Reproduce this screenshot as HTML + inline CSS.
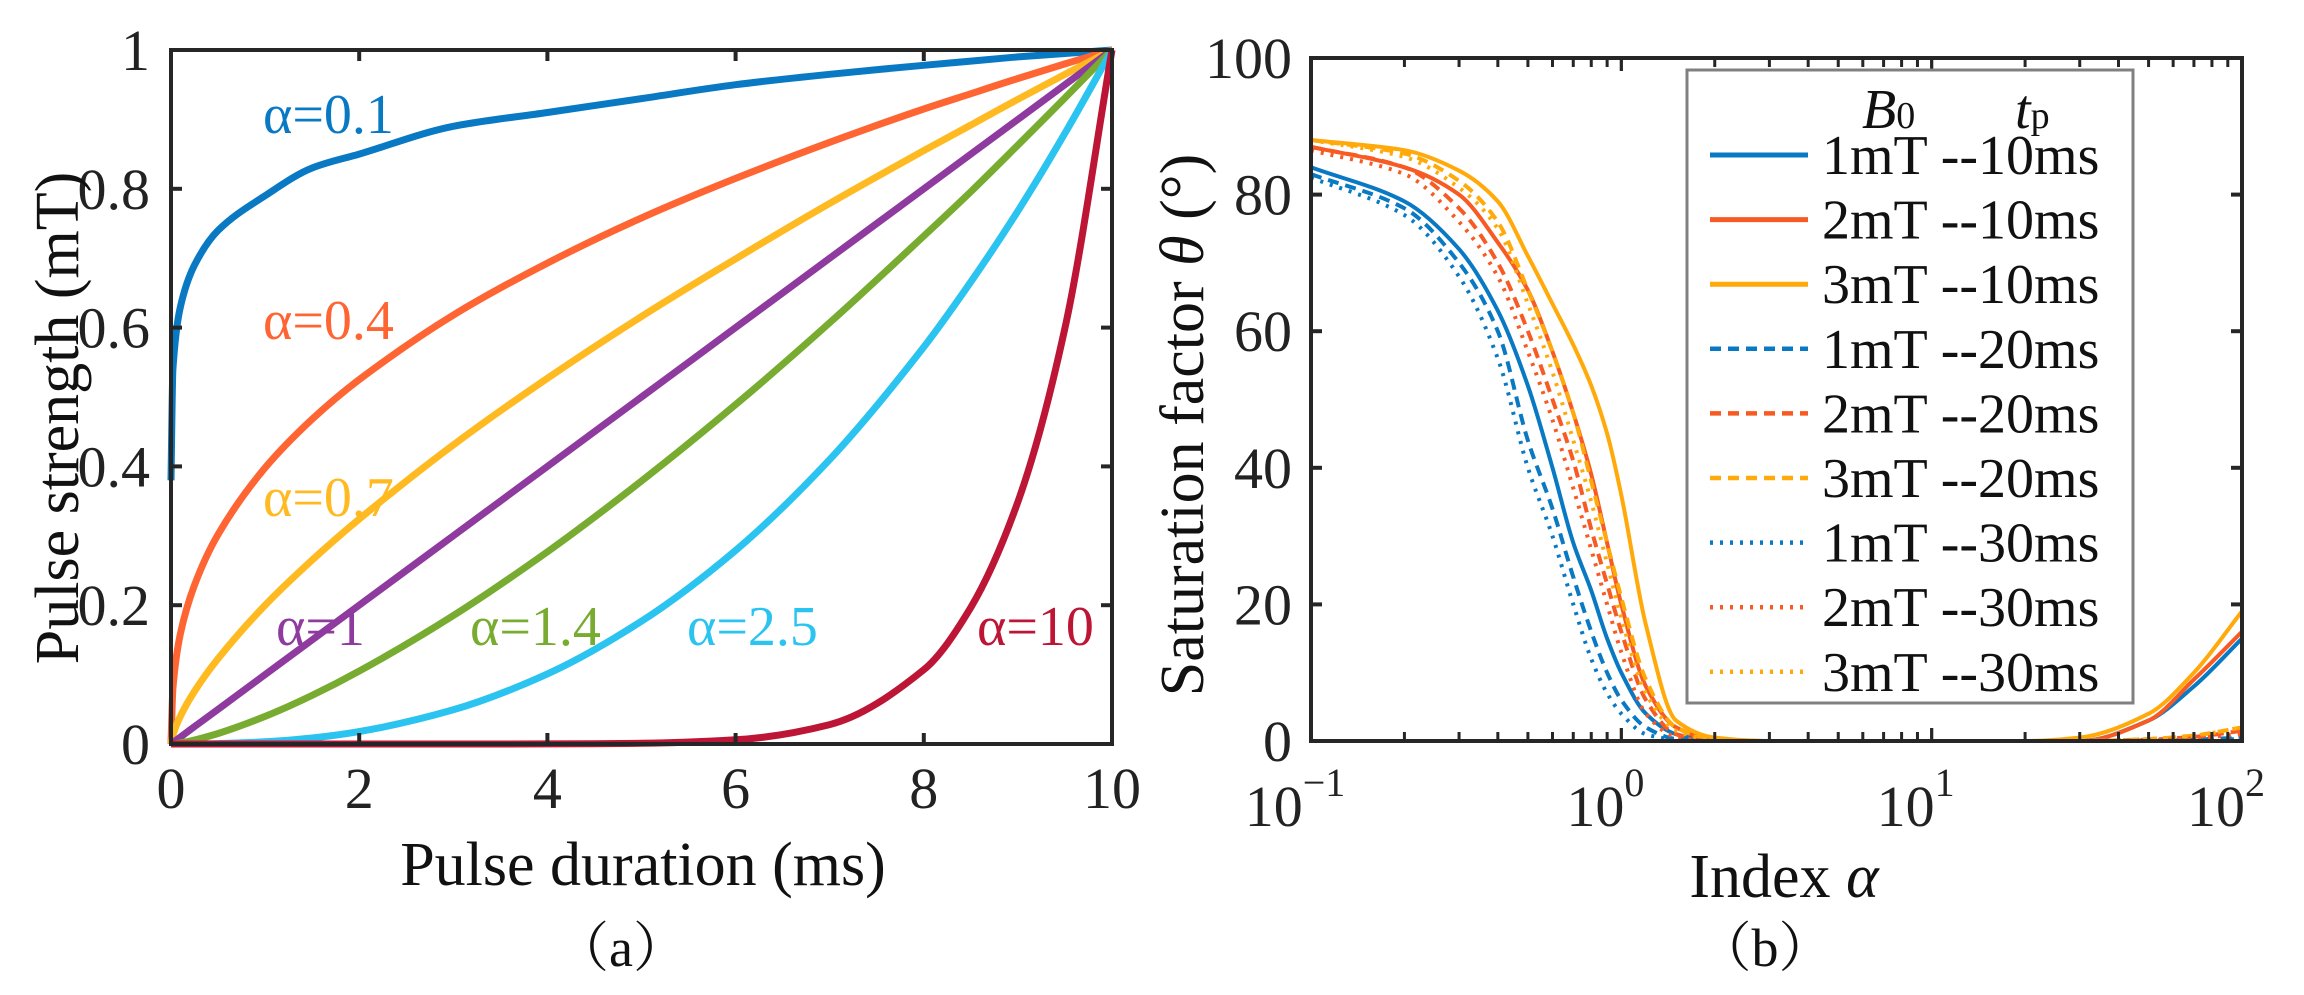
<!DOCTYPE html>
<html><head><meta charset="utf-8"><style>
html,body{margin:0;padding:0;background:#fff;}
svg{display:block;font-family:"Liberation Serif","Noto Serif CJK SC",serif;}
</style></head><body>
<svg id="fig" width="2304" height="995" viewBox="0 0 2304 995" xmlns="http://www.w3.org/2000/svg">
<g id="pa"></g>
<g id="pb"></g>
</svg>
<script>
// ---------- Panel (a) data ----------
const aTimes = [0,0.02,0.1,0.25,0.5,1,1.5,2,3,4,5,6,7,8,8.5,9,9.5,10];
const aAlphaLabels = ["α=0.1","α=0.4","α=0.7","α=1","α=1.4","α=2.5","α=10"];
const aS01 = [0.38,0.54,0.63,0.69,0.74,0.79,0.83,0.85,0.89,0.91,0.93,0.95,0.965,0.978,0.984,0.99,0.995,1];
const aS04 = [0,0.08,0.159,0.229,0.302,0.398,0.468,0.525,0.618,0.693,0.758,0.815,0.867,0.915,0.937,0.959,0.98,1];
const aS07 = [0,0.013,0.04,0.076,0.123,0.2,0.265,0.324,0.431,0.527,0.616,0.699,0.779,0.855,0.892,0.929,0.965,1];
const aS10 = [0,0.002,0.01,0.025,0.05,0.1,0.15,0.2,0.3,0.4,0.5,0.6,0.7,0.8,0.85,0.9,0.95,1];
const aS14 = [0,0,0.0016,0.0057,0.0152,0.0398,0.07,0.105,0.185,0.277,0.379,0.489,0.607,0.732,0.796,0.863,0.931,1];
const aS25 = [0,0,0,0.0001,0.0006,0.0032,0.0087,0.0179,0.0493,0.101,0.177,0.279,0.41,0.572,0.666,0.768,0.88,1];
const aS100 = [0,0,0,0,0,0,0,0,0,0.0001,0.001,0.006,0.028,0.107,0.197,0.349,0.599,1];
const aXTicks = [0,2,4,6,8,10];
const aXTickLabels = ["0","2","4","6","8","10"];
const aYTicks = [0,0.2,0.4,0.6,0.8,1];
const aYTickLabels = ["0","0.2","0.4","0.6","0.8","1"];

// ---------- Panel (b) data ----------
const bAlpha = [0.1,0.2,0.3,0.4,0.5,0.6,0.7,0.8,0.9,1,1.2,1.5,2,3,5,10,20,30,50,70,100];
const b1_10 = [84,79,72,63,52,40,29,22,15,10,4,1,0,0,0,0,0,0,3,8,15];
const b2_10 = [87,84,80,73,66,57,48,39,29,20,8,2,0.2,0,0,0,0,0,3,9,16];
const b3_10 = [88,86.5,83.5,79,71,64,58,52,45,36,17,3,0.5,0,0,0,0,0.5,4,10,19];
const b1_20 = [83,78,70,60,44,34,24,16,10,6,2,0.3,0,0,0,0,0,0,0,0.2,0.5];
const b2_20 = [87,84,78,70,60,50,41,31,23,16,6,1,0,0,0,0,0,0,0.2,0.6,1.5];
const b3_20 = [88,86,82,76,66,57,48,38,29,21,9,2,0.3,0,0,0,0,0,0.3,0.8,2];
const b1_30 = [82.5,77,68,56,40,30,20,12,7,4,1,0.2,0,0,0,0,0,0,0,0.1,0.3];
const b2_30 = [86.5,83,76,68,57,47,37,28,20,13,4,0.6,0,0,0,0,0,0,0.1,0.4,1];
const b3_30 = [88,85.5,81,75,64,54,44,35,26,18,7,1.5,0.2,0,0,0,0,0,0.3,0.8,2];
const bLegendLabels = ["1mT --10ms","2mT --10ms","3mT --10ms","1mT --20ms","2mT --20ms","3mT --20ms","1mT --30ms","2mT --30ms","3mT --30ms"];
const bYTicks = [0,20,40,60,80,100];
const bYTickLabels = ["0","20","40","60","80","100"];
const bXTickExps = [-1,0,1,2];
const bXTickExpLabels = ["−1","0","1","2"];

const NS="http://www.w3.org/2000/svg";
function mk(parent,tag,attrs,txt){const e=document.createElementNS(NS,tag);for(const k in attrs)e.setAttribute(k,attrs[k]);if(txt!==undefined)e.textContent=txt;parent.appendChild(e);return e;}
// monotone cubic path through screen points
function smoothPath(P){
  const n=P.length;if(n<3)return P.map((p,i)=>(i?'L':'M')+p[0]+','+p[1]).join(' ');
  const dx=[],m=[],t=[];
  for(let i=0;i<n-1;i++){dx[i]=P[i+1][0]-P[i][0];m[i]=(P[i+1][1]-P[i][1])/dx[i];}
  t[0]=m[0];t[n-1]=m[n-2];
  for(let i=1;i<n-1;i++){t[i]=(m[i-1]*m[i]<=0)?0:2/(1/m[i-1]+1/m[i]);}
  let d='M'+P[0][0].toFixed(1)+','+P[0][1].toFixed(1);
  for(let i=0;i<n-1;i++){
    const h=dx[i]/3;
    d+=' C'+(P[i][0]+h).toFixed(1)+','+(P[i][1]+t[i]*h).toFixed(1)+' '+(P[i+1][0]-h).toFixed(1)+','+(P[i+1][1]-t[i+1]*h).toFixed(1)+' '+P[i+1][0].toFixed(1)+','+P[i+1][1].toFixed(1);
  }
  return d;
}

// ---------- Panel (a) ----------
const pa=document.getElementById('pa');
const AX0=171,AX1=1112,AY0=744,AY1=50;
const ax=v=>AX0+(v-0)/(10-0)*(AX1-AX0);
const ay=v=>AY0-(v-0)/(1-0)*(AY0-AY1);
const aSeries=[aS01,aS04,aS07,aS10,aS14,aS25,aS100];
const aColors=["#0A79C4","#FF6433","#FFBA22","#8E3A9E","#77AC30","#2BC4F0","#BC1535"];
const aNames=["curve-alpha-0-1","curve-alpha-0-4","curve-alpha-0-7","curve-alpha-1","curve-alpha-1-4","curve-alpha-2-5","curve-alpha-10"];
const clipA=mk(document.getElementById('fig'),'clipPath',{id:'clipA'});
mk(clipA,'rect',{x:AX0-4,y:AY1-4,width:AX1-AX0+8,height:AY0-AY1+8});
const aCurves=mk(pa,'g',{'clip-path':'url(#clipA)'});


aSeries.forEach((s,i)=>{
  const pts=s.map((v,j)=>[ax(aTimes[j]),ay(v)]);
  const p=mk(aCurves,'path',{d:smoothPath(pts),fill:'none',stroke:aColors[i],'stroke-width':7,'stroke-linejoin':'round'});
  
  
});
const aBox=mk(pa,'rect',{x:AX0,y:AY1,width:AX1-AX0,height:AY0-AY1,fill:'none',stroke:'#262626','stroke-width':4});


aXTicks.forEach((t,i)=>{
  const x=ax(t);
  mk(pa,'line',{x1:x,y1:AY0,x2:x,y2:AY0-11,stroke:'#262626','stroke-width':4});
  mk(pa,'line',{x1:x,y1:AY1,x2:x,y2:AY1+11,stroke:'#262626','stroke-width':4});
  const tl=mk(pa,'text',{x:x,y:808,'text-anchor':'middle','font-size':58,fill:'#222'},aXTickLabels[i]);
  
  
});
aYTicks.forEach((t,i)=>{
  const y=ay(t);
  mk(pa,'line',{x1:AX0,y1:y,x2:AX0+11,y2:y,stroke:'#262626','stroke-width':4});
  mk(pa,'line',{x1:AX1,y1:y,x2:AX1-11,y2:y,stroke:'#262626','stroke-width':4});
  const tl=mk(pa,'text',{x:150,y:y+20,'text-anchor':'end','font-size':58,fill:'#222'},aYTickLabels[i]);
  
  
});
const aLabPos=[[263,133],[263,339],[263,516],[276,645],[470,645],[687,645],[977,645]];
aAlphaLabels.forEach((l,i)=>{
  const t=mk(pa,'text',{x:aLabPos[i][0],y:aLabPos[i][1],'font-size':56,fill:aColors[i]},l);
  
  
});
let t;
t=mk(pa,'text',{x:643,y:885,'text-anchor':'middle','font-size':62,fill:'#111'},'Pulse duration (ms)');


t=mk(pa,'text',{x:0,y:0,'text-anchor':'middle','font-size':62,fill:'#111',transform:'translate(78,418) rotate(-90)'},'Pulse strength (mT)');


t=mk(pa,'text',{x:621,y:966,'text-anchor':'middle','font-size':54,fill:'#111'},'（a）');



// ---------- Panel (b) ----------
const pb=document.getElementById('pb');
const BX0=1311,BX1=2242,BY0=741,BY1=58;
const bx=v=>BX0+(Math.log10(v)-(-1))/3*(BX1-BX0);
const by=v=>BY0-v/100*(BY0-BY1);
const clipB=mk(document.getElementById('fig'),'clipPath',{id:'clipB'});
mk(clipB,'rect',{x:BX0,y:BY1,width:BX1-BX0,height:BY0-BY1});
const bSeries=[b1_10,b2_10,b3_10,b1_20,b2_20,b3_20,b1_30,b2_30,b3_30];
const bCol=["#0A79C4","#F75A22","#FFAA0A"];
const bDash=["none","11 7","3 7"];
const bNames=["line-1mT-10ms","line-2mT-10ms","line-3mT-10ms","line-1mT-20ms","line-2mT-20ms","line-3mT-20ms","line-1mT-30ms","line-2mT-30ms","line-3mT-30ms"];
const bCurves=mk(pb,'g',{'clip-path':'url(#clipB)'});


bSeries.forEach((s,i)=>{
  const pts=s.map((v,j)=>[bx(bAlpha[j]),by(v)]);
  const p=mk(bCurves,'path',{d:smoothPath(pts),fill:'none',stroke:bCol[i%3],'stroke-width':4,'stroke-dasharray':bDash[Math.floor(i/3)]});
  
  
});
const bBox=mk(pb,'rect',{x:BX0,y:BY1,width:BX1-BX0,height:BY0-BY1,fill:'none',stroke:'#262626','stroke-width':4});


for(let e=-1;e<2;e++){for(let m=1;m<=10;m++){
  const v=m*Math.pow(10,e);const x=bx(v);const L=(m===1||m===10)?13:9;
  mk(pb,'line',{x1:x,y1:BY0,x2:x,y2:BY0-L,stroke:'#262626','stroke-width':3});
  mk(pb,'line',{x1:x,y1:BY1,x2:x,y2:BY1+L,stroke:'#262626','stroke-width':3});
}}
bXTickExps.forEach((e,i)=>{
  const x=bx(Math.pow(10,e));
  const g=mk(pb,'text',{x:x-16,y:826,'text-anchor':'middle','font-size':58,fill:'#222'});
  
  
  mk(g,'tspan',{},'10');
  mk(g,'tspan',{dy:-30,'font-size':40},bXTickExpLabels[i]);
});
bYTicks.forEach((v,i)=>{
  const y=by(v);
  mk(pb,'line',{x1:BX0,y1:y,x2:BX0+11,y2:y,stroke:'#262626','stroke-width':4});
  mk(pb,'line',{x1:BX1,y1:y,x2:BX1-11,y2:y,stroke:'#262626','stroke-width':4});
  const tl=mk(pb,'text',{x:1292,y:y+20,'text-anchor':'end','font-size':58,fill:'#222'},bYTickLabels[i]);
  
  
});
// legend
const lg=mk(pb,'g',{});


mk(lg,'rect',{x:1687,y:70,width:446,height:633,fill:'#fff',stroke:'#808080','stroke-width':3});
t=mk(lg,'text',{x:1862,y:128,'font-size':56,fill:'#111','font-style':'italic'},'B');
mk(t,'tspan',{'font-size':38,'font-style':'normal'},'0');


t=mk(lg,'text',{x:2015,y:128,'font-size':56,fill:'#111','font-style':'italic'},'t');
mk(t,'tspan',{'font-size':38,'font-style':'normal'},'p');


bLegendLabels.forEach((l,i)=>{
  const y=155+i*64.6;
  const e=mk(lg,'g',{});
  
  
  mk(e,'line',{x1:1710,y1:y,x2:1808,y2:y,stroke:bCol[i%3],'stroke-width':i<3?5:4.5,'stroke-dasharray':bDash[Math.floor(i/3)]});
  mk(e,'text',{x:1822,y:y+19,'font-size':56,fill:'#111'},l);
});
t=mk(pb,'text',{x:1784,y:897,'text-anchor':'middle','font-size':62,fill:'#111'},'Index ');
mk(t,'tspan',{'font-style':'italic'},'α');


t=mk(pb,'text',{x:0,y:0,'text-anchor':'middle','font-size':62,fill:'#111',transform:'translate(1203,425) rotate(-90)'},'Saturation factor ');
mk(t,'tspan',{'font-style':'italic'},'θ');
mk(t,'tspan',{},' (°)');


t=mk(pb,'text',{x:1765,y:966,'text-anchor':'middle','font-size':54,fill:'#111'},'（b）');


</script>
</body></html>
